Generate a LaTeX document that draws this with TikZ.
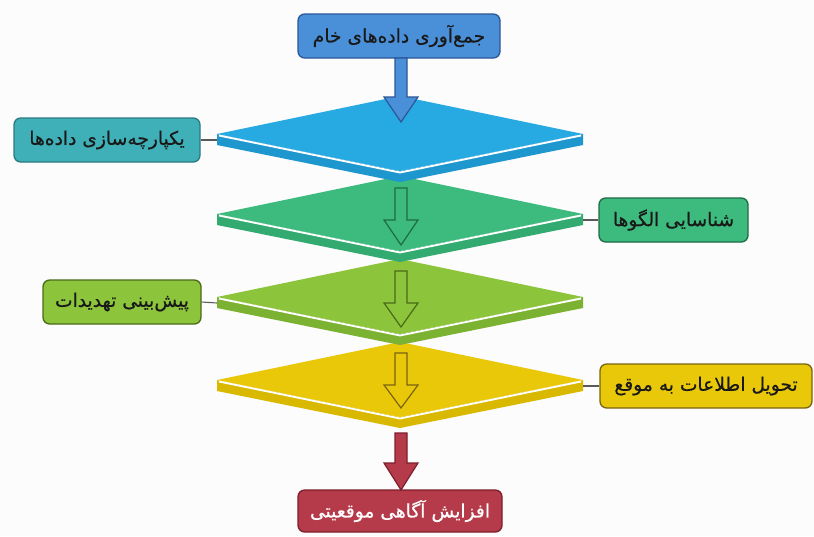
\documentclass[tikz,border=0pt]{standalone}
\usepackage{fontspec}
\TeXXeTstate=1
\newfontfamily\arabicfont[Script=Arabic,FakeBold=0.6]{DejaVu Sans}
\definecolor{bgc}{HTML}{FCFCFC}
\definecolor{blueF}{HTML}{4A90D9}
\definecolor{blueD}{HTML}{2B5797}
\definecolor{cyanF}{HTML}{27A9E1}
\definecolor{cyanS}{HTML}{1E97CF}
\definecolor{tealF}{HTML}{40B0B8}
\definecolor{tealD}{HTML}{2A7A80}
\definecolor{grnF}{HTML}{3DBB7E}
\definecolor{grnS}{HTML}{33AA6F}
\definecolor{grnD}{HTML}{1E6B45}
\definecolor{lgrF}{HTML}{8CC43C}
\definecolor{lgrS}{HTML}{7CB232}
\definecolor{lgrD}{HTML}{4A6A18}
\definecolor{ylwF}{HTML}{E9C80A}
\definecolor{ylwS}{HTML}{D9B800}
\definecolor{ylwD}{HTML}{7A6410}
\definecolor{redF}{HTML}{B53A4A}
\definecolor{redD}{HTML}{7D1F2C}
\definecolor{lineC}{HTML}{5A5A5A}
\newcommand{\fadiamond}[4]{% mid y, top colour, slab colour, name
  \fill[#3] (217,#1) -- (400,#1+37) -- (583,#1) -- (583,#1+11) -- (400,#1+48) -- (217,#1+11) -- cycle;
  \fill[#2] (400,#1-38) -- (583,#1) -- (400,#1+37) -- (217,#1) -- cycle;
  \draw[white, line width=1.4pt, line join=round] (219,#1+1.5) -- (400,#1+38.5) -- (581,#1+1.5);
  \coordinate (#4l) at (217,#1+6);
  \coordinate (#4r) at (583,#1+6);
}
\newcommand{\blockarrow}[4]{% top y, head base y, tip y, style
  \draw[#4, line width=0.9pt, line join=miter] (395,#1) -- (407,#1) -- (407,#2) -- (418,#2) -- (401,#3) -- (384,#2) -- (395,#2) -- cycle;
}
\tikzset{
  box/.style={draw, line width=1pt, rounded corners=5pt, inner sep=0pt,
    minimum height=33pt, text=black!90,
    font=\arabicfont\fontsize{14}{16}\selectfont},
  conn/.style={draw=lineC, line width=0.8pt}
}
\begin{document}
\begin{tikzpicture}[x=0.75pt,y=-0.75pt]
\fill[bgc] (0,0) rectangle (814,536);
\useasboundingbox (0,0) rectangle (814,536);

% diamonds (bottom first so upper ones overlap)
\fadiamond{380}{ylwF}{ylwS}{d4}
\fadiamond{297}{lgrF}{lgrS}{d3}
\fadiamond{214}{grnF}{grnS}{d2}
\fadiamond{134}{cyanF}{cyanS}{d1}

% boxes
\node[box, fill=blueF, draw=blueD, minimum width=151.5pt] (b0) at (399,36) {\beginR جمع‌آوری داده‌های خام\endR};
\node[box, fill=tealF, draw=tealD, minimum width=139.5pt] (b1) at (107,140) {\beginR یکپارچه‌سازی داده‌ها\endR};
\node[box, fill=grnF, draw=grnD, minimum width=111.75pt] (b2) at (673.5,220) {\beginR شناسایی الگوها\endR};
\node[box, fill=lgrF, draw=lgrD, minimum width=118.5pt] (b3) at (122,302) {\beginR پیش‌بینی تهدیدات\endR};
\node[box, fill=ylwF, draw=ylwD, minimum width=159pt] (b4) at (706,386) {\beginR تحویل اطلاعات به موقع\endR};
\node[box, fill=redF, draw=redD, minimum width=153pt, minimum height=31.5pt, text=white] (b5) at (400,511) {\beginR افزایش آگاهی موقعیتی\endR};

% connectors
\draw[conn] (b1.east) -- (d1l);
\draw[conn] (b2.west) -- (d2r);
\draw[conn] (b3.east) -- (d3l);
\draw[conn] (b4.west) -- (d4r);

% arrows
\blockarrow{58}{97}{122}{fill=blueF, draw=blueD}
\blockarrow{188}{220}{245}{draw=grnD}
\blockarrow{271}{303}{327}{draw=lgrD}
\blockarrow{353}{385}{408}{draw=ylwD}
\blockarrow{433}{463}{490}{fill=redF, draw=redD}
\end{tikzpicture}
\end{document}
